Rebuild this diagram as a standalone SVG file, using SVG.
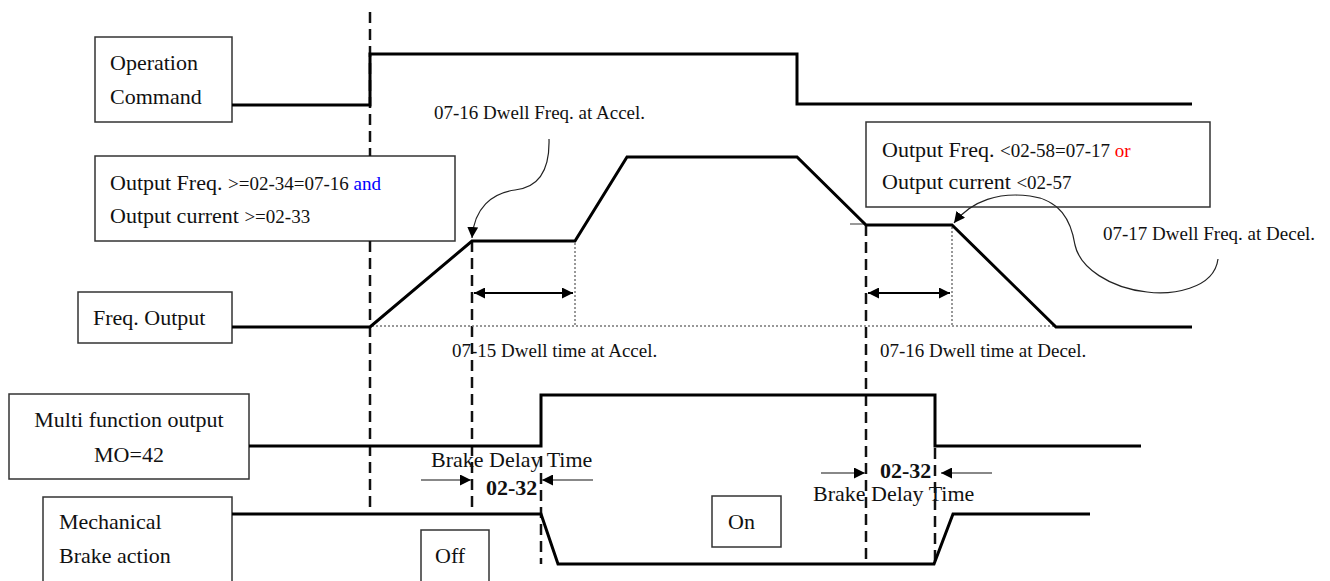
<svg xmlns="http://www.w3.org/2000/svg" width="1330" height="581" viewBox="0 0 1330 581">
<defs>
<style>
.box{fill:#fff;stroke:#333;stroke-width:1.5}
.t{font-family:"Liberation Serif","Times New Roman",serif;font-size:22px;fill:#111}
.s{font-family:"Liberation Serif","Times New Roman",serif;font-size:19px;fill:#111}
.blue{fill:#0000ff}
.red{fill:#ff0000}
.b{font-family:"Liberation Serif","Times New Roman",serif;font-size:22px;font-weight:bold;fill:#111}
.sig{fill:none;stroke:#000;stroke-width:3;stroke-linejoin:miter}
.dash{fill:none;stroke:#111;stroke-width:2.5;stroke-dasharray:11,6}
.dot{fill:none;stroke:#777;stroke-width:1.5;stroke-dasharray:2,2}
.dim{fill:none;stroke:#000;stroke-width:2}
.gray{fill:none;stroke:#888;stroke-width:2}
.lead{fill:none;stroke:#222;stroke-width:1.2}
</style>
<marker id="ah" viewBox="0 0 10 10" refX="10" refY="5" markerWidth="11" markerHeight="11" markerUnits="userSpaceOnUse" orient="auto">
<path d="M0,0 L10,5 L0,10 z" fill="#000"/>
</marker>
<marker id="ahs" viewBox="0 0 10 10" refX="0" refY="5" markerWidth="11" markerHeight="11" markerUnits="userSpaceOnUse" orient="auto">
<path d="M10,0 L0,5 L10,10 z" fill="#000"/>
</marker>
</defs>
<rect width="1330" height="581" fill="#fff"/>

<g id="op-command">
<rect class="box" x="95" y="37" width="137" height="85"/>
<text class="t" x="110" y="70">Operation</text>
<text class="t" x="110" y="104">Command</text>
</g>

<g id="accel-condition">
<rect class="box" x="95" y="156" width="360" height="85"/>
<text class="t" x="110" y="190">Output Freq. <tspan class="s">&gt;=02-34=07-16 </tspan><tspan class="s blue">and</tspan></text>
<text class="t" x="110" y="223">Output current <tspan class="s">&gt;=02-33</tspan></text>
</g>

<g id="decel-condition">
<rect class="box" x="866" y="122" width="344" height="85"/>
<text class="t" x="882" y="157">Output Freq. <tspan class="s">&lt;02-58=07-17 </tspan><tspan class="s red">or</tspan></text>
<text class="t" x="882" y="189">Output current <tspan class="s">&lt;02-57</tspan></text>
</g>

<g id="freq-output">
<rect class="box" x="78" y="292" width="154" height="51"/>
<text class="t" x="93" y="325">Freq. Output</text>
</g>

<g id="mo-output">
<rect class="box" x="9" y="394" width="240" height="85"/>
<text class="t" x="129" y="427" text-anchor="middle">Multi function output</text>
<text class="t" x="129" y="462" text-anchor="middle">MO=42</text>
</g>

<g id="brake-action">
<rect class="box" x="43" y="497" width="189" height="90"/>
<text class="t" x="59" y="529">Mechanical</text>
<text class="t" x="59" y="563">Brake action</text>
</g>

<g id="off-box">
<rect class="box" x="421" y="530" width="68" height="57"/>
<text class="t" x="435" y="563">Off</text>
</g>

<g id="on-box">
<rect class="box" x="712" y="496" width="69" height="51"/>
<text class="t" x="728" y="529">On</text>
</g>

<g id="connectors">
<!-- reference lines -->
<path class="dash" d="M370,12 V156 M370,241 V514"/>
<path class="dash" d="M472,241 V512"/>
<path class="dash" d="M866,225 V564"/>
<path class="dash" d="M541,456 V564"/>
<path class="dash" d="M935,448 V562"/>
<path class="dot" d="M372,326 H1055"/>
<path class="dot" d="M575,243 V326"/>
<path class="dot" d="M952,227 V326"/>
<path d="M850,224 H866" stroke="#777" stroke-width="1.5"/>
<!-- signals -->
<path class="sig" d="M232,105 H370 V54 H797 V104 H1192"/>
<path class="sig" d="M232,327 H370 L472,241 H575 L627,157 H797 L866,225 H952 L1056,327 H1192"/>
<path class="sig" d="M249,446 H541 V395 H935 V446 H1141"/>
<path class="sig" d="M232,514 H541 L558,564 H934 L953,514 H1090"/>
<!-- dwell time dimensions -->
<path class="dim" d="M474,293 H573" marker-start="url(#ahs)" marker-end="url(#ah)"/>
<path class="dim" d="M868,293 H950" marker-start="url(#ahs)" marker-end="url(#ah)"/>
<!-- brake delay arrows -->
<path class="gray" d="M421,480 H471" marker-end="url(#ah)"/>
<path class="gray" d="M593,480 H542" marker-end="url(#ah)"/>
<path class="gray" d="M821,473 H865" marker-end="url(#ah)"/>
<path class="gray" d="M992,473 H941" marker-end="url(#ah)"/>
<!-- leaders -->
<path class="lead" d="M549,139 C550,175 535,188 515,190 C492,193 474,208 472,238" marker-end="url(#ah)"/>
<path class="lead" d="M1218,259 C1214,290 1170,295 1147,292 C1110,288 1080,268 1075,245 C1071,220 1060,200 1030,196 C1000,192 972,200 954,223" marker-end="url(#ah)"/>
</g>

<g id="labels">
<text class="s" x="434" y="119">07-16 Dwell Freq. at Accel.</text>
<text class="s" x="1103" y="240">07-17 Dwell Freq. at Decel.</text>
<text class="s" x="452" y="357">07-15 Dwell time at Accel.</text>
<text class="s" x="880" y="357">07-16 Dwell time at Decel.</text>
<text class="t" x="431" y="467">Brake Delay Time</text>
<text class="b" x="486" y="495">02-32</text>
<text class="b" x="880" y="478">02-32</text>
<text class="t" x="813" y="501">Brake Delay Time</text>
</g>
</svg>
